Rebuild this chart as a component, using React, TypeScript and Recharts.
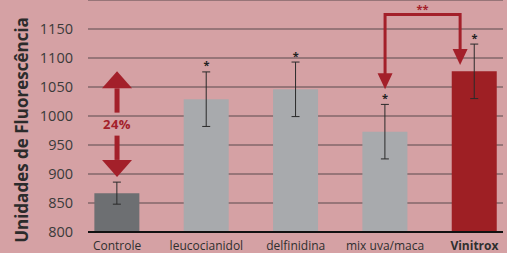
import { BarChart, Bar, XAxis, YAxis, CartesianGrid, ErrorBar, Cell, ReferenceLine, ReferenceDot, Label } from "recharts";

const categories = ["Controle", "leucocianidol", "delfinidina", "mix uva/maca", "Vinitrox"];
const values = [867, 1029, 1046, 973, 1077];
const errors = [19, 47, 47, 47, 47];
const starred = [false, true, true, true, true];
const yTicks = [800, 850, 900, 950, 1000, 1050, 1100, 1150];

const RED = "#a3202a";
const barColors = ["#6d6f72", "#a8aaad", "#a8aaad", "#a8aaad", "#9e1f24"];

const data = categories.map((name, i) => ({ x: i, name, value: values[i], err: errors[i] }));

const XTick = ({ x, y, payload }: any) => (
  <text x={x} y={y + 18} textAnchor="middle" fontSize={12} fontWeight={payload.value === 4 ? 700 : 400} fill="#2f2f2f">
    {categories[payload.value]}
  </text>
);

const YTitle = ({ viewBox }: any) => (
  <text transform={`translate(${viewBox.x + 28},${viewBox.y + viewBox.height / 2 + 14}) rotate(-90)`} textAnchor="middle" fontSize={17} fontWeight={700} fill="#2b2b2b">
    Unidades de Fluorescência
  </text>
);

// seta dupla do "24%"
const DoubleArrow = ({ x1, y1, y2 }: any) => {
  const top = Math.min(y1, y2), bottom = Math.max(y1, y2);
  const mid = (top + bottom) / 2, hh = 17, hw = 15;
  return (
    <g>
      <polygon points={`${x1},${top} ${x1 - hw},${top + hh} ${x1 + hw},${top + hh}`} fill={RED} />
      <rect x={x1 - 2.5} y={top + hh} width={5} height={mid - 11.5 - (top + hh)} fill={RED} />
      <rect x={x1 - 2.5} y={mid + 11.5} width={5} height={bottom - hh - (mid + 11.5)} fill={RED} />
      <polygon points={`${x1},${bottom} ${x1 - hw},${bottom - hh} ${x1 + hw},${bottom - hh}`} fill={RED} />
      <text x={x1} y={mid} textAnchor="middle" dominantBaseline="central" fontSize={13} fontWeight={700} letterSpacing={0.5} fill={RED}>24%</text>
    </g>
  );
};

const DownArrow = ({ x1, y1, y2 }: any) => {
  const hh = 16, hw = 7.5;
  return (
    <g>
      <line x1={x1} y1={y1 - 1.5} x2={x1} y2={y2 - hh + 1} stroke={RED} strokeWidth={3} />
      <polygon points={`${x1},${y2} ${x1 - hw},${y2 - hh} ${x1 + hw},${y2 - hh}`} fill={RED} />
    </g>
  );
};

const Star = ({ cx, cy }: any) => (
  <text x={cx} y={cy - 2.5} textAnchor="middle" fontSize={11} fontWeight={700} fill="#222">*</text>
);

const DoubleStar = ({ cx, cy }: any) => (
  <text x={cx} y={cy - 2} textAnchor="middle" fontSize={11} fontWeight={700} fill={RED}>**</text>
);

export default function App() {
  return (
    <div style={{ position: "absolute", left: 0, top: 0, width: 507, height: 253, background: "#d5a1a4", fontFamily: "'Open Sans'" }}>
      <BarChart width={507} height={253} data={data} margin={{ top: 0, right: 4, bottom: 0, left: 0 }}>
        <CartesianGrid vertical={false} stroke="#5b4a4c" strokeWidth={1.2} />
        <XAxis dataKey="x" type="number" domain={[-0.325, 4.32]} ticks={[0, 1, 2, 3, 4]} height={21} tickSize={0} tickMargin={0} tick={<XTick />} axisLine={{ stroke: "#111", strokeWidth: 2 }} tickLine={false} />
        <YAxis type="number" domain={[800, 1200]} ticks={yTicks} width={88} tickSize={0} tickMargin={15} axisLine={false} tickLine={false} tick={{ fill: "#3a3a3a", fontSize: 14.5 }}>
          <Label content={<YTitle />} />
        </YAxis>
        <Bar dataKey="value" barSize={45} isAnimationActive={false}>
          {data.map((d, i) => <Cell key={d.name} fill={barColors[i]} />)}
          <ErrorBar dataKey="err" direction="y" width={4} stroke="#2a2a2a" strokeWidth={1} />
        </Bar>
        {data.map((d, i) => starred[i] ? <ReferenceDot key={"s" + i} x={i} y={d.value + d.err} r={0} shape={<Star />} /> : null)}
        <ReferenceLine segment={[{ x: 0, y: 895 }, { x: 0, y: 1077 }]} shape={<DoubleArrow />} />
        <ReferenceLine segment={[{ x: 3, y: 1175 }, { x: 3.84, y: 1175 }]} stroke={RED} strokeWidth={3} />
        <ReferenceLine segment={[{ x: 3, y: 1175 }, { x: 3, y: 1046 }]} shape={<DownArrow />} />
        <ReferenceLine segment={[{ x: 3.84, y: 1175 }, { x: 3.84, y: 1088 }]} shape={<DownArrow />} />
        <ReferenceDot x={3.42} y={1175} r={0} shape={<DoubleStar />} />
      </BarChart>
    </div>
  );
}
